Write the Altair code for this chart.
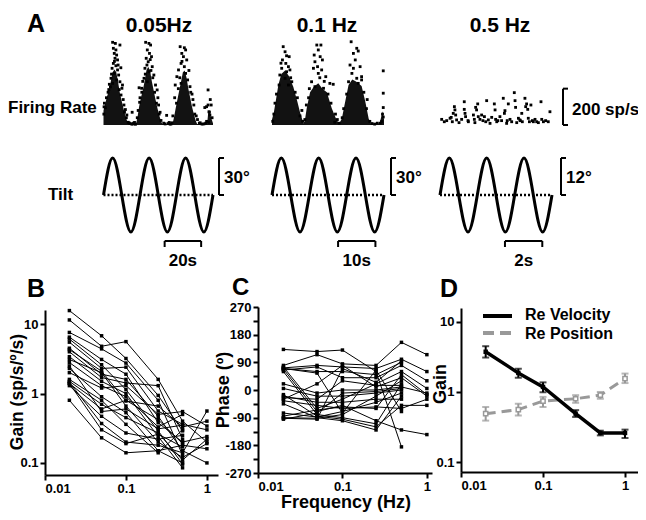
import altair as alt
import pandas as pd

FONT = "Liberation Sans"

# ---------------------------------------------------------------- data
# Panel A: column titles and labels
col_titles = ["0.05Hz", "0.1 Hz", "0.5 Hz"]
cycle_s = [60, 30, 6]                  # time shown in each column (s)
tilt_amp = [30, 30, 12]                # tilt amplitude (deg)
tilt_amp_labels = ["30°", "30°", "12°"]
time_bar_start = [33.5, 17.7, 3.48]    # s
time_bar_len = [20, 10, 2]             # s
time_bar_labels = ["20s", "10s", "2s"]
rate_bar = 200                         # sp/s

# tilt traces, read at quarter cycles
tilt1_t = [0, 5, 10, 15, 20, 25, 30, 35, 40, 45, 50, 55, 60]
tilt1_v = [0, 30, 0, -30, 0, 30, 0, -30, 0, 30, 0, -30, 0]
tilt2_t = [0, 2.5, 5, 7.5, 10, 12.5, 15, 17.5, 20, 22.5, 25, 27.5, 30]
tilt2_v = [0, 30, 0, -30, 0, 30, 0, -30, 0, 30, 0, -30, 0]
tilt3_t = [0, 0.5, 1, 1.5, 2, 2.5, 3, 3.5, 4, 4.5, 5, 5.5, 6]
tilt3_v = [0, 12, 0, -12, 0, 12, 0, -12, 0, 12, 0, -12, 0]

# dense core of the firing-rate rasters (upper edge, sp/s)
dense1_t = [0, 1, 2, 3, 4, 5, 6, 7, 8, 9, 10, 11, 12, 13, 13.8, 17.8, 18.6, 19.5, 20.5, 21.5,
            22.5, 23.5, 24.5, 25.5, 26.5, 27.5, 28.5, 29.5, 30.5, 31.5, 32.3, 37.8, 38.6, 39.5,
            40.5, 41.5, 42.5, 43.5, 44.5, 45.5, 46.5, 47.5, 48.5, 49.5, 50.5, 51.3, 56.8, 57.3,
            58, 58.7, 59.3, 60]
dense1_fr = [80, 120, 160, 190, 240, 290, 305, 290, 235, 175, 130, 90, 50, 20, 6, 6, 40, 100,
             150, 190, 240, 300, 320, 300, 240, 190, 140, 95, 55, 20, 6, 6, 40, 90, 140, 190,
             240, 290, 300, 260, 200, 150, 100, 60, 25, 6, 6, 60, 75, 50, 30, 10]
dense2_t = [0, 0.5, 1, 1.7, 2.5, 3.5, 4.5, 5.7, 6.8, 7.5, 8.1, 8.4, 8.8, 9.3, 10.2, 11.2, 12.4,
            13.5, 14.7, 16, 17.3, 18, 18.7, 19.6, 20.5, 21.5, 22.5, 24, 25, 25.9, 26.5, 28.8,
            29.2, 29.6, 30]
dense2_fr = [30, 70, 130, 220, 280, 300, 270, 210, 128, 70, 30, 8, 25, 92, 180, 210, 230, 200,
             180, 92, 28, 8, 35, 128, 220, 250, 240, 215, 128, 35, 8, 8, 40, 75, 30]

# scattered spikes (time s, rate sp/s)
spikes1 = [(5.0, 455), (6.5, 449), (9.0, 440), (5.4, 422), (6.8, 413), (5.9, 394), (7.2, 385),
           (6.3, 367), (7.7, 358), (9.5, 315), (5.4, 339), (6.8, 326), (4.7, 312), (7.7, 303),
           (5.9, 284), (8.3, 275), (4.1, 257), (7.2, 248), (5.0, 229), (9.0, 238), (3.2, 224),
           (10.4, 220), (10.1, 202), (0.2, 60), (1.0, 95), (11.5, 70), (12.5, 40), (13.5, 15),
           (14.5, 8), (15.5, 5), (16.5, 10), (17.5, 4), (15.7, 70), (2.5, 180), (3.8, 210),
           (8.6, 195), (11.2, 110), (0.5, 120), (12.0, 85), (4.4, 280), (6.0, 350), (8.0, 330),
           (1.6, 150), (2.9, 195), (9.6, 165), (10.8, 140), (12.8, 55), (0.3, 100),
           (23.1, 455), (24.9, 449), (25.8, 440), (24.0, 413), (25.2, 394), (23.4, 367),
           (26.3, 376), (24.5, 348), (26.7, 321), (22.7, 312), (24.9, 293), (27.6, 275),
           (22.2, 257), (24.0, 238), (19.5, 205), (20.9, 202), (28.5, 220), (29.4, 193),
           (18.5, 40), (19.0, 80), (30.5, 60), (31.5, 25), (33.0, 10), (34.6, 53), (35.5, 8),
           (36.5, 5), (37.5, 12), (21.5, 240), (23.8, 330), (25.6, 360), (26.0, 300),
           (27.0, 260), (29.8, 150), (30.2, 110), (20.0, 150), (19.8, 125), (21.0, 180),
           (28.0, 180), (29.0, 120), (31.0, 70), (22.9, 280),
           (42.0, 431), (44.3, 425), (45.0, 413), (42.9, 394), (43.8, 376), (45.6, 358),
           (42.5, 339), (44.3, 321), (41.1, 303), (45.0, 284), (40.2, 266), (46.1, 248),
           (42.5, 229), (39.3, 220), (47.4, 211), (38.0, 50), (50.0, 60), (51.5, 30), (52.5, 10),
           (54.0, 5), (55.5, 96), (57.3, 193), (58.5, 140), (59.0, 110), (58.0, 70), (59.5, 40),
           (56.5, 20), (57.5, 15), (57.3, 110), (56.5, 101), (57.8, 73), (58.3, 55), (43.0, 350),
           (46.8, 300), (41.8, 260), (48.5, 170), (39.0, 150), (49.5, 110), (40.0, 120),
           (47.8, 180), (49.0, 140), (50.8, 50), (41.0, 200), (14.0, 12),
           (16.0, 6), (17.0, 14), (33.8, 6), (36.0, 14), (37.0, 6), (53.0, 12), (55.0, 6),
           (56.0, 10)]
spikes2 = [(3.0, 431), (3.5, 403), (3.9, 381), (4.6, 376), (2.8, 358), (3.7, 339), (4.4, 321),
           (2.6, 312), (3.9, 293), (4.8, 303), (2.1, 275), (3.5, 257), (5.3, 238), (1.9, 220),
           (4.4, 220), (0.2, 20), (0.5, 60), (7.5, 50), (8.2, 20), (8.0, 80), (6.2, 180),
           (1.2, 170), (5.0, 260), (2.4, 340), (6.8, 150), (0.8, 120),
           (12.0, 440), (13.1, 440), (12.4, 413), (11.3, 385), (12.9, 376), (13.5, 358),
           (11.5, 348), (12.2, 321), (11.1, 312), (13.3, 303), (12.4, 284), (14.4, 266),
           (10.6, 238), (15.5, 229), (11.5, 211), (13.8, 202), (16.4, 224), (8.8, 30),
           (17.5, 30), (18.0, 10), (17.0, 60), (16.8, 15), (9.8, 150), (15.0, 170), (12.8, 260),
           (14.0, 240), (10.0, 200), (15.8, 120), (9.2, 110),
           (21.2, 458), (22.7, 422), (21.8, 394), (23.1, 407), (22.3, 358), (20.9, 330),
           (21.8, 312), (23.6, 321), (24.0, 266), (24.0, 248), (21.4, 284), (22.7, 257),
           (20.5, 238), (23.1, 229), (26.2, 20), (26.8, 8), (27.5, 5), (28.2, 10), (18.8, 40),
           (19.2, 90), (25.3, 90), (24.6, 180), (20.0, 170), (25.5, 140),
           (29.8, 298), (29.8, 175), (29.8, 96), (29.8, 44), (29.4, 20), (29.0, 10), (29.6, 60)]
spikes3 = [(0.09, 31), (0.23, 18), (0.36, 24), (0.54, 37), (0.66, 18), (0.71, 64), (0.77, 101),
           (0.80, 83), (0.84, 55), (0.89, 28), (1.02, 13), (1.16, 31), (1.30, 128), (1.30, 86),
           (1.34, 64), (1.37, 46), (1.52, 18), (1.79, 55), (1.84, 31), (1.87, 13), (1.91, 97),
           (1.96, 83), (2.02, 116), (2.05, 46), (2.14, 31), (2.23, 55), (2.38, 46), (2.45, 18),
           (2.50, 134), (2.59, 28), (2.68, 9), (2.77, 42), (2.91, 116), (2.95, 83), (2.98, 31),
           (3.04, 18), (3.21, 46), (3.30, 24), (3.39, 147), (3.45, 64), (3.48, 79), (3.57, 9),
           (3.66, 116), (3.75, 31), (3.84, 18), (3.98, 178), (4.02, 134), (4.05, 97), (4.11, 13),
           (4.20, 37), (4.28, 28), (4.38, 64), (4.41, 18), (4.55, 147), (4.59, 101), (4.64, 116),
           (4.70, 86), (4.73, 37), (4.79, 18), (4.87, 110), (4.95, 24), (5.09, 31), (5.18, 18),
           (5.27, 13), (5.41, 128), (5.45, 31), (5.54, 18), (5.66, 24), (5.80, 18), (5.89, 73),
           (0.6, 42), (1.5, 24), (2.3, 24), (3.1, 24), (3.6, 24), (4.3, 24), (5.0, 18)]

# Panels B-D
freqs = [0.02, 0.05, 0.1, 0.25, 0.5, 1.0]
gain_002 = [15.7, 11.5, 7.6, 6.5, 6.1, 5.5, 4.5, 4.3, 4.0, 3.4, 3.1, 2.8, 2.3, 2.0, 1.6, 1.5, 1.4, 1.3, 1.45, 0.8, 1.4, 2.5]
gain_005 = [6.8, 4.8, 4.4, 3.1, 2.6, 2.3, 1.9, 2.1, 1.7, 1.5, 2.0, 1.3, 0.9, 1.2, 0.8, 0.7, 0.6, 0.47, 0.37, 0.23, 0.3, 0.55]
gain_010 = [3.2, 5.6, 2.75, 1.9, 1.14, 2.4, 1.6, 0.78, 1.42, 1.0, 0.66, 0.9, 0.53, 1.3, 0.36, 0.45, 0.8, 0.27, 0.2, 0.14, 0.19, 0.6]
gain_025 = [0.94, 1.6, 0.8, 0.38, 0.29, 0.56, 0.47, 0.66, 1.3, 0.24, 0.2, 0.33, 0.15, 0.5, 0.14, 0.27, 0.42, 0.22, 0.18, 0.15, 0.26, 0.31]
gain_050 = [0.29, 0.4, 0.13, 0.2, 0.096, 0.36, 0.15, 0.33, 0.22, 0.085, 0.12, 0.5, 0.18, 0.55, 0.3, 0.11, 0.19, 0.25, 0.14, 0.1, 0.17, 0.35]
gain_100 = [None, 0.2, None, 0.24, None, 0.3, 0.1, 0.4, None, None, 0.19, None, 0.16, 0.34, None, 0.22, None, None, 0.56, None, None, None]

phase_002 = [132, 80, 75, 72, 70, 68, 65, 60, 20, 5, -15, -20, -30, -35, -45, -75, -85, -90, -92, -95, 70, -25]
phase_005 = [125, 115, -60, 80, 60, -70, 75, -80, -10, -20, -85, -40, 20, -50, -90, -88, -65, -92, -95, -75, 55, -30]
phase_010 = [130, 85, -30, 75, 60, -50, 40, -90, 0, -20, -95, -40, 80, -60, -100, -70, -55, -80, 70, -10, -75, 30]
phase_025 = [60, 80, 20, 70, 50, -100, 40, -110, 0, -10, -120, -30, 10, -55, -130, -40, -60, -20, 25, -5, 65, 15]
phase_050 = [-185, 155, 60, 100, 90, -130, 80, 20, 10, 0, -50, -30, 40, -60, -20, -10, 50, 30, 95, 5, -70, 15]
phase_100 = [None, 115, 5, 60, None, -145, 30, None, -10, None, -50, None, -20, -30, None, None, -15, None, None, None, None, None]

vel_mean = [3.75, 1.87, 1.18, 0.49, 0.26, 0.26]
vel_lo = [3.1, 1.6, 0.99, 0.44, 0.24, 0.22]
vel_hi = [4.5, 2.15, 1.37, 0.55, 0.28, 0.29]
pos_mean = [0.49, 0.56, 0.74, 0.80, 0.90, 1.55]
pos_lo = [0.39, 0.46, 0.61, 0.70, 0.80, 1.34]
pos_hi = [0.61, 0.68, 0.85, 0.90, 1.00, 1.83]

# ---------------------------------------------------------------- helpers
one = alt.Data(values=[{"k": 0}])


def text(s, x, y, size=17, align="left", baseline="alphabetic", angle=None):
    kw = dict(font=FONT, fontWeight="bold", fontSize=size, align=align,
              baseline=baseline, color="black")
    if angle is not None:
        kw["angle"] = angle
    return alt.Chart(one).mark_text(**kw).encode(
        x=alt.value(x), y=alt.value(y), text=alt.value(s))


def prule(x1, y1, x2, y2, w=2, color="black", dash=None):
    kw = dict(color=color, strokeWidth=w)
    if dash:
        kw["strokeDash"] = dash
    return alt.Chart(one).mark_rule(**kw).encode(
        x=alt.value(x1), y=alt.value(y1), x2=alt.value(x2), y2=alt.value(y2))


# column pixel ranges (plot coordinates)
col_px = [(95.5, 205), (264, 376), (432, 544)]
amp_bracket_x = [211, 383, 553]
title_x = [151, 319, 492]


def raster(i, dense_t, dense_fr, spikes, with_bar=False):
    xs = alt.Scale(domain=[0, cycle_s[i]], range=list(col_px[i]), nice=False, zero=False)
    ys = alt.Scale(domain=[0, 460], range=[117, 33.4], nice=False, zero=False)
    X = lambda f: alt.X(f, type="quantitative", scale=xs, axis=None)
    Y = lambda f: alt.Y(f, type="quantitative", scale=ys, axis=None)
    layers = []
    if dense_t is not None:
        d = pd.DataFrame({"t": dense_t, "fr": dense_fr})
        layers.append(alt.Chart(d).mark_area(color="black", opacity=0.93).encode(
            x=X("t"), y=Y("fr")))
    p = pd.DataFrame(spikes, columns=["t", "fr"])
    layers.append(alt.Chart(p).mark_square(size=8, color="black", opacity=1).encode(
        x=X("t"), y=Y("fr")))
    if with_bar:
        b = pd.DataFrame({"lo": [0], "hi": [rate_bar]})
        bx = 555
        layers.append(alt.Chart(b).mark_rule(color="black", strokeWidth=2).encode(
            x=alt.value(bx), y=Y("hi"), y2="lo"))
        layers.append(alt.Chart(b).mark_rule(color="black", strokeWidth=2).encode(
            x=alt.value(bx), x2=alt.value(bx + 5), y=Y("hi")))
        layers.append(alt.Chart(b).mark_rule(color="black", strokeWidth=2).encode(
            x=alt.value(bx), x2=alt.value(bx + 5), y=Y("lo")))
    return alt.layer(*layers)


def tilt(i, t, v):
    amp = tilt_amp[i]
    xs = alt.Scale(domain=[0, cycle_s[i]], range=list(col_px[i]), nice=False, zero=False)
    ys = alt.Scale(domain=[-amp, amp], range=[224, 150], nice=False, zero=False)
    X = lambda f: alt.X(f, type="quantitative", scale=xs, axis=None)
    Y = lambda f: alt.Y(f, type="quantitative", scale=ys, axis=None)
    sine = alt.Chart(pd.DataFrame({"t": t, "v": v})).mark_line(
        color="black", strokeWidth=3, interpolate="natural").encode(x=X("t"), y=Y("v"))
    mid = alt.Chart(pd.DataFrame({"t": [0, cycle_s[i]], "v": [0, 0]})).mark_line(
        color="black", strokeWidth=2.5, strokeDash=[2, 2]).encode(x=X("t"), y=Y("v"))
    t0 = time_bar_start[i]
    tb = pd.DataFrame({"t0": [t0], "t1": [t0 + time_bar_len[i]],
                       "tm": [t0 + time_bar_len[i] / 2], "lab": [time_bar_labels[i]]})
    bar_h = alt.Chart(tb).mark_rule(color="black", strokeWidth=2).encode(
        x=X("t0"), x2="t1", y=alt.value(233))
    bar_l = alt.Chart(tb).mark_rule(color="black", strokeWidth=2).encode(
        x=X("t0"), y=alt.value(233), y2=alt.value(239))
    bar_r = alt.Chart(tb).mark_rule(color="black", strokeWidth=2).encode(
        x=X("t1"), y=alt.value(233), y2=alt.value(239))
    bar_t = alt.Chart(tb).mark_text(font=FONT, fontWeight="bold", fontSize=17,
                                    align="center", color="black").encode(
        x=X("tm"), y=alt.value(253), text="lab:N")
    ab = pd.DataFrame({"lo": [0], "hi": [amp]})
    bx = amp_bracket_x[i]
    br = alt.Chart(ab).mark_rule(color="black", strokeWidth=2).encode(
        x=alt.value(bx), y=Y("hi"), y2="lo")
    br_t = alt.Chart(ab).mark_rule(color="black", strokeWidth=2).encode(
        x=alt.value(bx), x2=alt.value(bx + 5), y=Y("hi"))
    br_b = alt.Chart(ab).mark_rule(color="black", strokeWidth=2).encode(
        x=alt.value(bx), x2=alt.value(bx + 5), y=Y("lo"))
    return alt.layer(mid, sine, bar_h, bar_l, bar_r, bar_t, br, br_t, br_b)


def long_cells(cols):
    rows = []
    for f, col in zip(freqs, cols):
        for c, val in enumerate(col):
            if val is not None:
                rows.append({"cell": c, "f": f, "v": val})
    return pd.DataFrame(rows)


# ---------------------------------------------------------------- panel B
xB = alt.Scale(type="log", domain=[0.01, 1.37], range=[37, 210], nice=False)
yB = alt.Scale(type="log", domain=[0.067, 16], range=[467, 302], nice=False)
axXB = alt.Axis(orient="bottom", offset=-37, values=[0.01, 0.1, 1], format="~g", title=None)
axYB = alt.Axis(orient="left", offset=-37, values=[0.1, 1, 10], format="~g", title=None)
dfB = long_cells([gain_002, gain_005, gain_010, gain_025, gain_050, gain_100])
encB = dict(x=alt.X("f:Q", scale=xB, axis=axXB), y=alt.Y("v:Q", scale=yB, axis=axYB))
panelB = alt.layer(
    alt.Chart(dfB).mark_line(color="black", strokeWidth=1).encode(detail="cell:N", **encB),
    alt.Chart(dfB).mark_square(size=12, color="black", opacity=1).encode(**encB),
)

# ---------------------------------------------------------------- panel C
xC = alt.Scale(type="log", domain=[0.01, 1.15], range=[250, 424], nice=False)
yC = alt.Scale(domain=[-270, 270], range=[465, 299], nice=False, zero=False)
axXC = alt.Axis(orient="bottom", offset=-39, values=[0.01, 0.1, 1], format="~g", title=None)
axYC = alt.Axis(orient="left", offset=-250, values=list(range(-270, 271, 45)),
                labelExpr="datum.value % 90 == 0 ? '' + datum.value : ''", title=None)
dfC = long_cells([phase_002, phase_005, phase_010, phase_025, phase_050, phase_100])
encC = dict(x=alt.X("f:Q", scale=xC, axis=axXC), y=alt.Y("v:Q", scale=yC, axis=axYC))
panelC = alt.layer(
    alt.Chart(dfC).mark_line(color="black", strokeWidth=1).encode(detail="cell:N", **encC),
    alt.Chart(dfC).mark_square(size=12, color="black", opacity=1).encode(**encC),
)

# ---------------------------------------------------------------- panel D
xD = alt.Scale(type="log", domain=[0.01, 1.44], range=[453, 630], nice=False)
yD = alt.Scale(type="log", domain=[0.072, 15.8], range=[464, 300], nice=False)
axXD = alt.Axis(orient="bottom", offset=-40, values=[0.01, 0.1, 1], format="~g", title=None)
axYD = alt.Axis(orient="left", offset=-453, values=[0.1, 1, 10], format="~g", title=None)
dfV = pd.DataFrame({"f": freqs, "m": vel_mean, "lo": vel_lo, "hi": vel_hi})
dfP = pd.DataFrame({"f": freqs, "m": pos_mean, "lo": pos_lo, "hi": pos_hi})
XD = alt.X("f:Q", scale=xD, axis=axXD)
YD = lambda fld: alt.Y(fld, type="quantitative", scale=yD, axis=axYD)
GRAY = "#999999"
panelD = alt.layer(
    alt.Chart(dfP).mark_line(color=GRAY, strokeWidth=3, strokeDash=[10, 6]).encode(x=XD, y=YD("m")),
    alt.Chart(dfP).mark_rule(color=GRAY, strokeWidth=2).encode(x=XD, y=YD("lo"), y2="hi"),
    alt.Chart(dfP).mark_tick(color=GRAY, orient="horizontal", size=7, thickness=2).encode(x=XD, y=YD("lo")),
    alt.Chart(dfP).mark_tick(color=GRAY, orient="horizontal", size=7, thickness=2).encode(x=XD, y=YD("hi")),
    alt.Chart(dfP).mark_point(shape="square", filled=True, fill="white", stroke=GRAY, size=18,
                              strokeWidth=1.5, opacity=1).encode(x=XD, y=YD("m")),
    alt.Chart(dfV).mark_line(color="black", strokeWidth=3.5).encode(x=XD, y=YD("m")),
    alt.Chart(dfV).mark_rule(color="black", strokeWidth=2).encode(x=XD, y=YD("lo"), y2="hi"),
    alt.Chart(dfV).mark_tick(color="black", orient="horizontal", size=7, thickness=2).encode(x=XD, y=YD("lo")),
    alt.Chart(dfV).mark_tick(color="black", orient="horizontal", size=7, thickness=2).encode(x=XD, y=YD("hi")),
    alt.Chart(dfV).mark_square(color="black", size=20, opacity=1).encode(x=XD, y=YD("m")),
)

# ---------------------------------------------------------------- assemble
layers = [
    raster(0, dense1_t, dense1_fr, spikes1),
    raster(1, dense2_t, dense2_fr, spikes2),
    raster(2, None, None, spikes3, with_bar=True),
    tilt(0, tilt1_t, tilt1_v),
    tilt(1, tilt2_t, tilt2_v),
    tilt(2, tilt3_t, tilt3_v),
    panelB, panelC, panelD,
    # annotations
    text("A", 19, 24, size=25),
    text(col_titles[0], title_x[0], 24, size=21, align="center"),
    text(col_titles[1], title_x[1], 24, size=21, align="center"),
    text(col_titles[2], title_x[2], 24, size=21, align="center"),
    text("Firing Rate", 0, 105),
    text("Tilt", 40, 192),
    text("200 sp/s", 564, 107),
    text(tilt_amp_labels[0], amp_bracket_x[0] + 5, 175),
    text(tilt_amp_labels[1], amp_bracket_x[1] + 5, 175),
    text(tilt_amp_labels[2], amp_bracket_x[2] + 5, 175),
    text("B", 19, 289, size=25),
    text("C", 224, 287, size=24),
    text("D", 432, 289, size=25),
    text("Gain (sp/s/º/s)", 10, 384, size=17.5, align="center", baseline="middle", angle=270),
    text("Phase (º)", 216, 382, size=18, align="center", baseline="middle", angle=270),
    text("Gain", 433, 376, size=18, align="center", baseline="middle", angle=270),
    text("Frequency (Hz)", 338, 500, size=18, align="center"),
    prule(475, 308, 504, 308, w=4),
    prule(475, 325, 504, 325, w=4, color=GRAY, dash=[11, 6]),
    text("Re Velocity", 517, 312, size=16),
    text("Re Position", 517, 331, size=16),
]

chart = (
    alt.layer(*layers)
    .resolve_scale(x="independent", y="independent")
    .resolve_axis(x="independent", y="independent")
    .properties(width=630, height=504, autosize=alt.AutoSizeParams(type="none"), padding=0)
    .configure_view(stroke=None)
    .configure_axis(
        labelFont=FONT, labelFontWeight="bold", labelFontSize=13, labelColor="black",
        domainColor="black", domainWidth=2, tickColor="black", tickWidth=2, tickSize=5,
        grid=False, labelPadding=2,
    )
)

chart.save("out.html", embed_options={"renderer": "svg", "actions": False})
